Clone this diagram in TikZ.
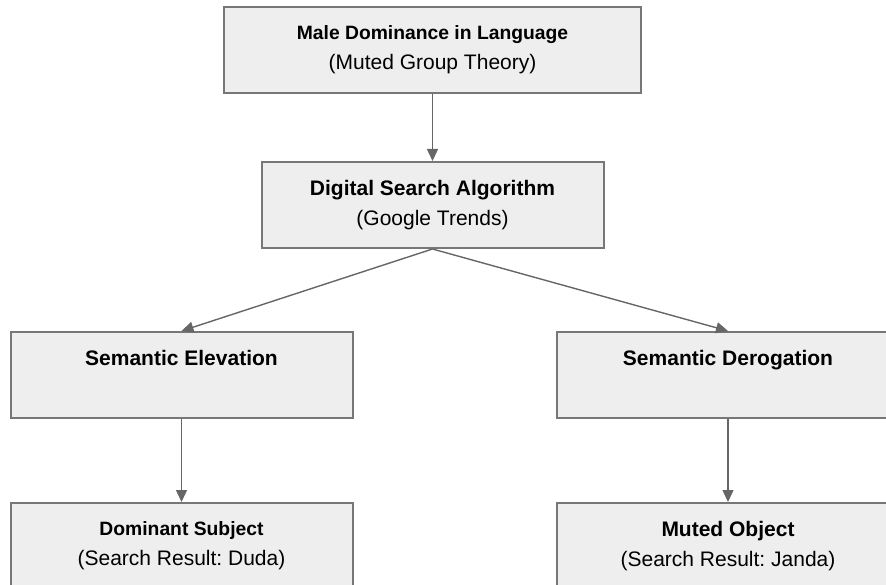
\documentclass[tikz,border=0pt]{standalone}
\usepackage{fontspec}
\setmainfont{Liberation Sans}
\usetikzlibrary{arrows.meta}
\frenchspacing
\definecolor{boxfill}{HTML}{EEEEEE}
\definecolor{boxline}{HTML}{777777}
\definecolor{arrline}{HTML}{666666}
\tikzset{
  box/.style={rectangle, fill=boxfill, draw=boxline, line width=2pt, minimum height=86pt, inner sep=0pt, align=center, font=\fontsize{21}{30}\selectfont},
  wide/.style={minimum width=417pt},
  mid/.style={minimum width=342pt},
  link/.style={draw=arrline, line width=1.4pt, -{Triangle[length=12pt,width=11pt]}}
}
\newcommand{\ttl}[1]{\textbf{#1}}
\newcommand{\sttl}[1]{{\fontsize{19.3}{30}\selectfont\textbf{#1}}}

\begin{document}
\begin{tikzpicture}[x=1pt, y=-1pt]
    \clip (0,0) rectangle (886,585);
    \node[box, wide] (male) at (432.5,50) {\sttl{Male Dominance in Language}\\(Muted Group Theory)};
    \node[box, mid] (dsa) at (432.5,205) {\ttl{Digital Search Algorithm}\\(Google Trends)};
    \node[box, mid] (elev) at (181.5,375) {\ttl{Semantic Elevation}\\\vphantom{(}};
    \node[box, mid] (derog) at (728,375) {\ttl{Semantic Derogation}\\\vphantom{(}};
    \node[box, mid] (dom) at (181.5,546) {\sttl{Dominant Subject}\\(Search Result: Duda)};
    \node[box, mid] (muted) at (728,546) {\ttl{Muted Object}\\(Search Result: Janda)};
    \draw[link] (male) -- (dsa);
    \draw[link] (dsa.south) -- (elev.north);
    \draw[link] (dsa.south) -- (derog.north);
    \draw[link] (elev) -- (dom);
    \draw[link] (derog) -- (muted);
  \end{tikzpicture}
\end{document}
